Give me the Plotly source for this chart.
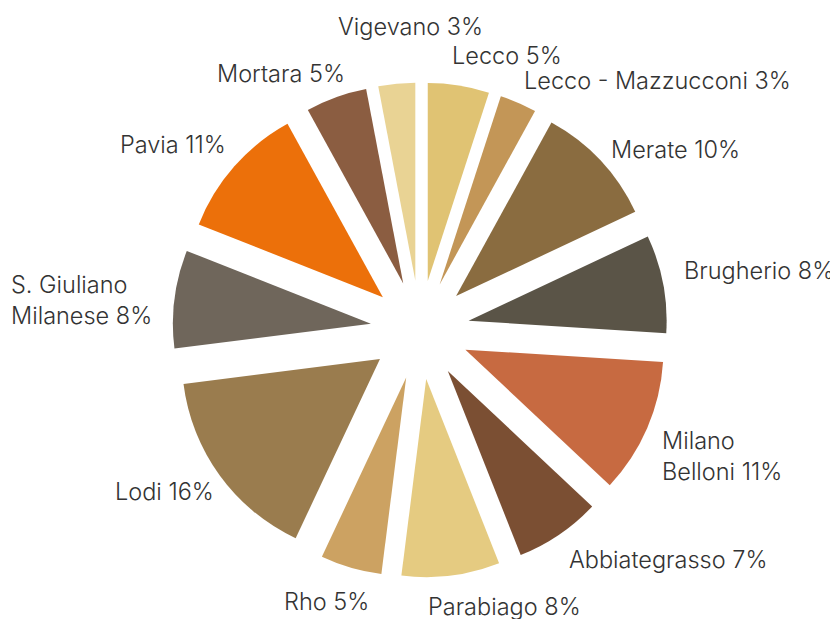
import math
import plotly.graph_objects as go

labels = ["Lecco", "Lecco - Mazzucconi", "Merate", "Brugherio", "Milano<br>Belloni",
          "Abbiategrasso", "Parabiago", "Rho", "Lodi", "S. Giuliano<br>Milanese",
          "Pavia", "Mortara", "Vigevano"]
values = [5, 3, 10, 8, 11, 7, 8, 5, 16, 8, 11, 5, 3]
colors = ["#E0C373", "#C39657", "#8A6C40", "#5A5447", "#C76A41",
          "#7B4F33", "#E5CB81", "#CCA262", "#9A7C4E", "#6F665B",
          "#EC700A", "#8B5D41", "#E9D394"]

# label placement tweaks (pixels) to avoid collisions, in slice order
label_nudge = [(-10, -6), (-3, 0), (-6, 6), (-2, -9), (-7, 18), (-3, 5), (-25, 7),
               (25, 10), (14, 2), (2, 4), (10, -6), (17, -1), (89, -33)]

W, H = 838, 619
PAGE_OFF = 8                # default body margin of the html page
cx, cy, R = 420 - PAGE_OFF, 330 - PAGE_OFF, 247.5
label_r = 272

fig = go.Figure(go.Pie(
    labels=labels,
    values=values,
    sort=False,
    direction="clockwise",
    rotation=0,
    pull=[0.25] * len(values),
    marker=dict(colors=colors, line=dict(width=0)),
    textinfo="none",
    hoverinfo="skip",
    domain=dict(x=[(cx - R) / W, (cx + R) / W],
                y=[(H - cy - R) / H, (H - cy + R) / H]),
))

total = sum(values)
cum = 0
annotations = []
for lab, v, (nx, ny) in zip(labels, values, label_nudge):
    mid = (cum + v / 2) / total * 2 * math.pi
    cum += v
    right_side = math.sin(mid) >= 0
    px = cx + label_r * math.sin(mid) + nx + (-3 if right_side else 2)
    py = cy - label_r * math.cos(mid) + ny
    annotations.append(dict(
        x=px / W, y=1 - py / H, xref="paper", yref="paper",
        text=f"{lab} {v}%", showarrow=False,
        xanchor="left" if right_side else "right", yanchor="middle",
        align="left",
        font=dict(family="Inter", size=23.5, color="#333333", weight=300),
    ))

fig.update_layout(
    width=W, height=H,
    margin=dict(l=0, r=0, t=0, b=0),
    paper_bgcolor="white",
    plot_bgcolor="white",
    showlegend=False,
    annotations=annotations,
)

fig.write_html("out.html")
